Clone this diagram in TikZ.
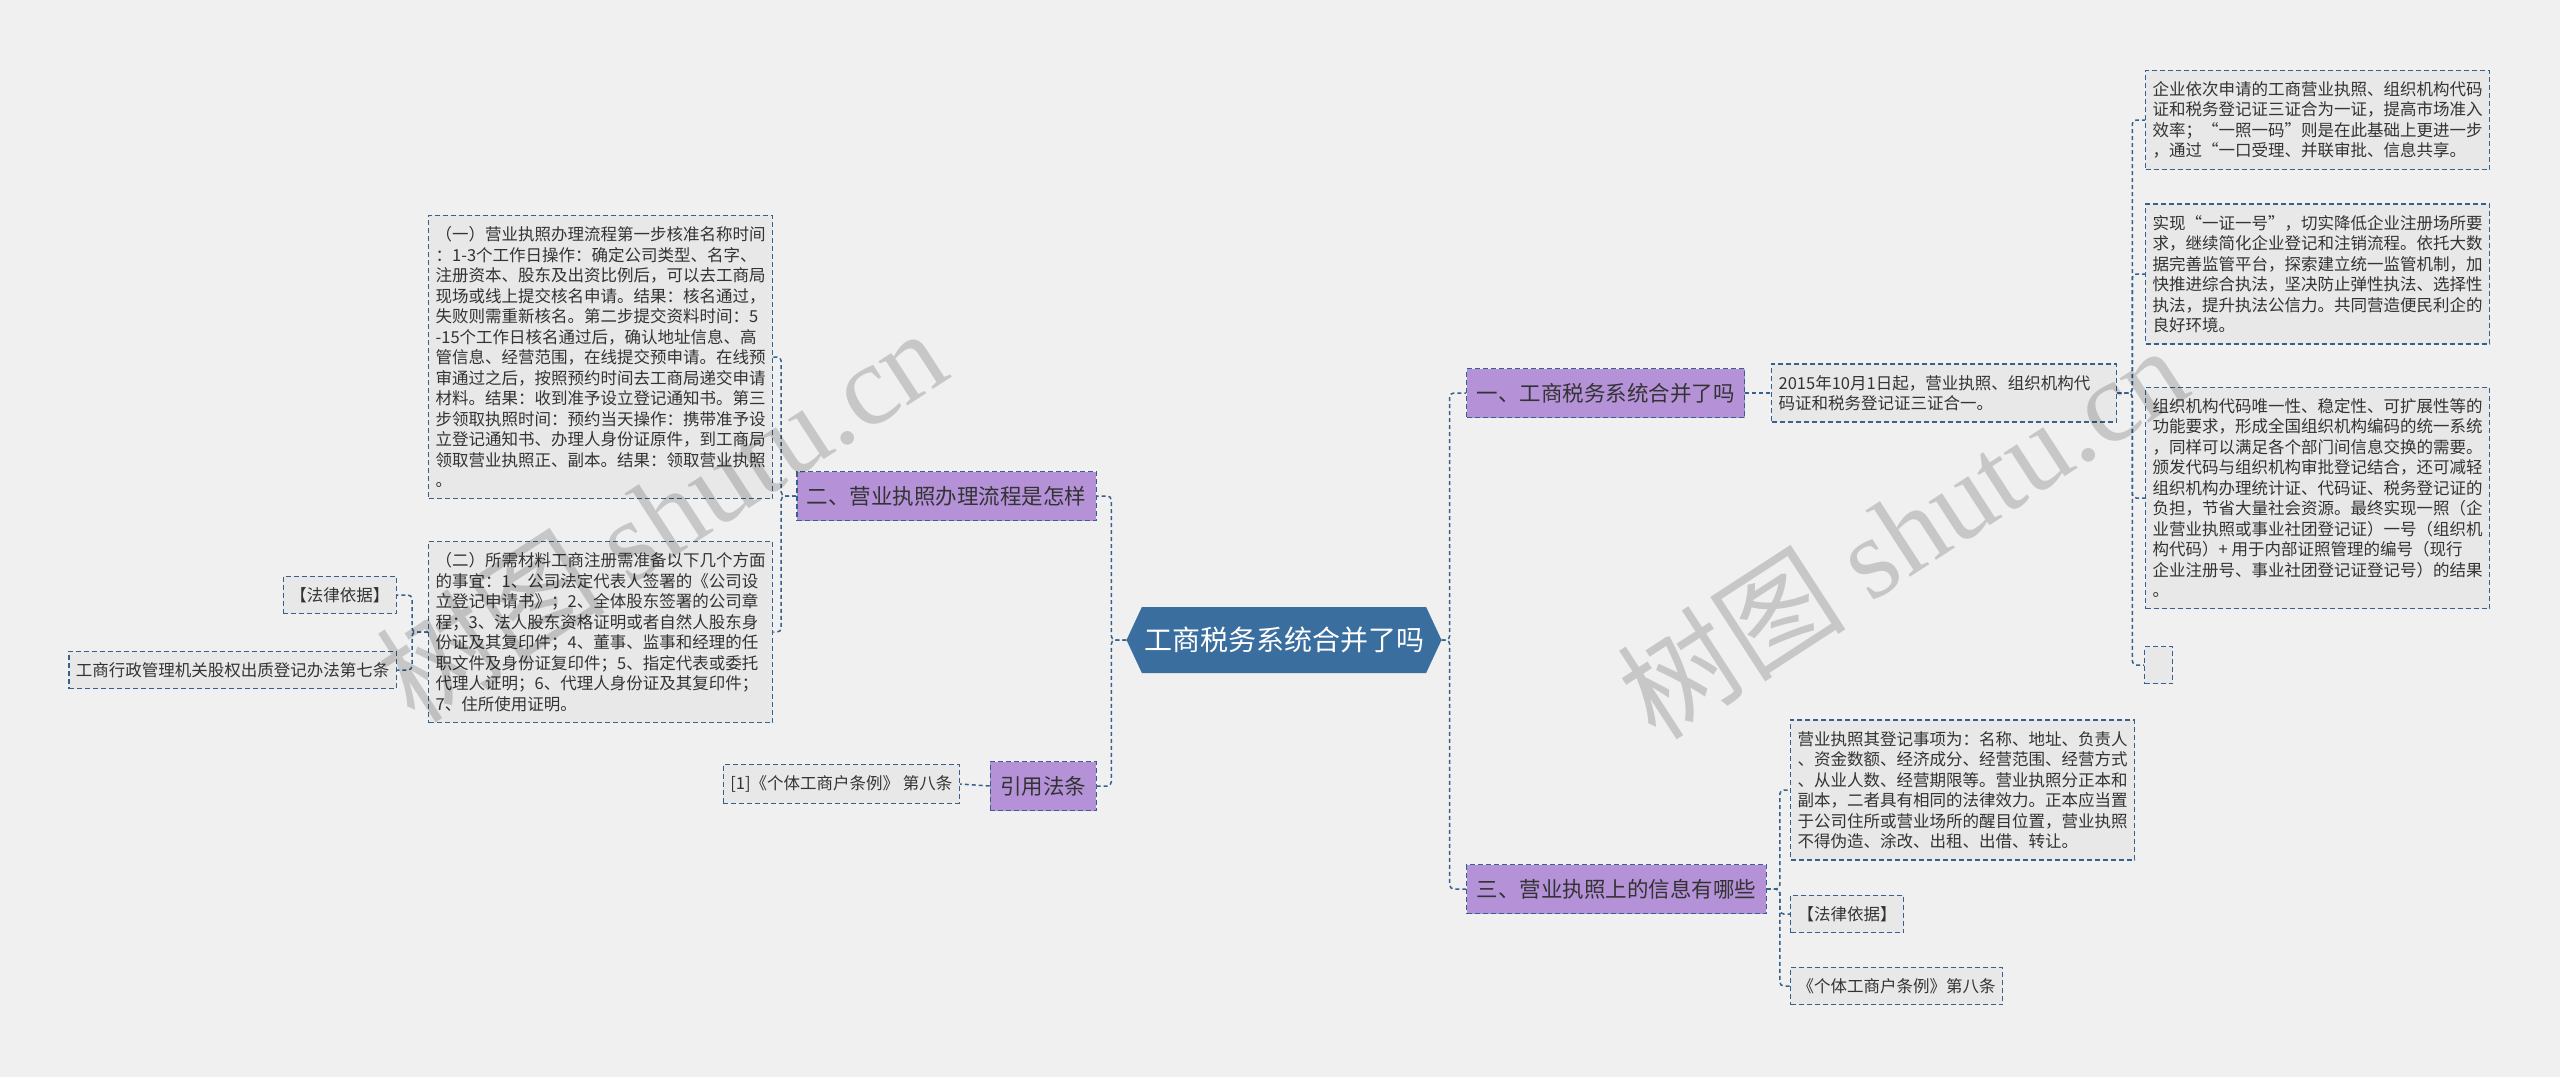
\documentclass[tikz,border=0pt]{standalone}
\usepackage{fontspec}
\setmainfont{Noto Sans CJK SC}
\newfontfamily\wmserif{Liberation Serif}
\usetikzlibrary{shapes.symbols,positioning}
\definecolor{bgcol}{HTML}{F0F0F0}
\definecolor{leafcol}{HTML}{E8E8E8}
\definecolor{topiccol}{HTML}{B592D8}
\definecolor{rootcol}{HTML}{3A6E9E}
\definecolor{linecol}{HTML}{35618C}
\definecolor{txtcol}{HTML}{333333}
\tikzset{
  leaf/.style={rectangle, draw=linecol, fill=leafcol, align=left, text=txtcol, font=\fontsize{16.5}{20.5}\selectfont, inner xsep=7pt, inner ysep=11pt, line width=1.3pt, dash pattern=on 5pt off 3pt},
  topic/.style={rectangle, draw=linecol, fill=topiccol, text=txtcol, font=\fontsize{21.5}{24}\selectfont, inner xsep=10pt, minimum height=49pt, line width=1.3pt, dash pattern=on 5pt off 3pt},
  root/.style={signal, signal to=west and east, signal pointer angle=130, fill=rootcol, text=white, font=\fontsize{28}{30}\selectfont, minimum width=315pt, minimum height=66pt, inner sep=0pt},
  link/.style={draw=linecol, line width=1.5pt, dash pattern=on 4pt off 3pt, rounded corners=4pt},
  watermark/.style={text=black, text opacity=0.17, font=\fontsize{115}{115}\selectfont, rotate=33, inner sep=0pt}
}

\begin{document}
\begin{tikzpicture}[x=1pt, y=-1pt]
\fill[bgcol] (0,0) rectangle (2560,1077);
\useasboundingbox (0,0) rectangle (2560,1077);
\node[root] (root) at (1284,640) {工商税务系统合并了吗};
% left side
\node[topic, anchor=east] (liucheng) at (1097,496) {二、营业执照办理流程是怎样};
\node[topic, anchor=east] (fatiao) at (1097,786) {引用法条};
\node[leaf, anchor=west] (buzhou) at (428,357) {（一）营业执照办理流程第一步核准名称时间\\：1-3个工作日操作：确定公司类型、名字、\\注册资本、股东及出资比例后，可以去工商局\\现场或线上提交核名申请。结果：核名通过，\\失败则需重新核名。第二步提交资料时间：5\\-15个工作日核名通过后，确认地址信息、高\\管信息、经营范围，在线提交预申请。在线预\\审通过之后，按照预约时间去工商局递交申请\\材料。结果：收到准予设立登记通知书。第三\\步领取执照时间：预约当天操作：携带准予设\\立登记通知书、办理人身份证原件，到工商局\\领取营业执照正、副本。结果：领取营业执照\\。};
\node[leaf, anchor=west] (cailiao) at (428,632) {（二）所需材料工商注册需准备以下几个方面\\的事宜：1、公司法定代表人签署的《公司设\\立登记申请书》；2、全体股东签署的公司章\\程；3、法人股东资格证明或者自然人股东身\\份证及其复印件；4、董事、监事和经理的任\\职文件及身份证复印件；5、指定代表或委托\\代理人证明；6、代理人身份证及其复印件；\\7、住所使用证明。};
\node[leaf, anchor=east] (yijuleft) at (397,595) {【法律依据】};
\node[leaf, anchor=east] (banfa) at (397,670) {工商行政管理机关股权出质登记办法第七条};
\node[leaf, anchor=east] (tiaoli) at (960,784) {[1]《个体工商户条例》 第八条};
% right side
\node[topic, anchor=west] (hebing) at (1466,393) {一、工商税务系统合并了吗};
\node[topic, anchor=west] (xinxi) at (1466,889) {三、营业执照上的信息有哪些};
\node[leaf, anchor=west, text width=331pt] (sanzheng) at (1771,393) {2015年10月1日起，营业执照、组织机构代\\码证和税务登记证三证合一。};
\node[leaf, anchor=west] (yizhao) at (2145,120) {企业依次申请的工商营业执照、组织机构代码\\证和税务登记证三证合为一证，提高市场准入\\效率；“一照一码”则是在此基础上更进一步\\，通过“一口受理、并联审批、信息共享。};
\node[leaf, anchor=west] (yizheng) at (2145,274) {实现“一证一号”，切实降低企业注册场所要\\求，继续简化企业登记和注销流程。依托大数\\据完善监管平台，探索建立统一监管机制，加\\快推进综合执法，坚决防止弹性执法、选择性\\执法，提升执法公信力。共同营造便民利企的\\良好环境。};
\node[leaf, anchor=west] (daima) at (2145,498) {组织机构代码唯一性、稳定性、可扩展性等的\\功能要求，形成全国组织机构编码的统一系统\\，同样可以满足各个部门间信息交换的需要。\\颁发代码与组织机构审批登记结合，还可减轻\\组织机构办理统计证、代码证、税务登记证的\\负担，节省大量社会资源。最终实现一照（企\\业营业执照或事业社团登记证）一号（组织机\\构代码）+ 用于内部证照管理的编号（现行\\企业注册号、事业社团登记证登记号）的结果\\。};
\node[leaf, anchor=west, minimum width=28pt, minimum height=37pt] (kong) at (2144,665) {};
\node[leaf, anchor=west] (shixiang) at (1790,790) {营业执照其登记事项为：名称、地址、负责人\\、资金数额、经济成分、经营范围、经营方式\\、从业人数、经营期限等。营业执照分正本和\\副本，二者具有相同的法律效力。正本应当置\\于公司住所或营业场所的醒目位置，营业执照\\不得伪造、涂改、出租、出借、转让。};
\node[leaf, anchor=west] (yijuright) at (1790,914) {【法律依据】};
\node[leaf, anchor=west] (tiaoliright) at (1790,986) {《个体工商户条例》第八条};
% connectors
\foreach \c in {hebing,xinxi} {\draw[link] (root.east) -- ++(8,0) |- (\c.west);}
\foreach \c in {liucheng,fatiao} {\draw[link] (root.west) -- ++(-15,0) |- (\c.east);}
\foreach \c in {buzhou,cailiao} {\draw[link] (liucheng.west) -- ++(-15,0) |- (\c.east);}
\foreach \c in {yijuleft,banfa} {\draw[link] (cailiao.west) -- ++(-16,0) |- (\c.east);}
\draw[link] (fatiao.west) -- (tiaoli.east);
\draw[link] (hebing.east) -- (sanzheng.west);
\foreach \c in {yizhao,yizheng,daima,kong} {\draw[link] (sanzheng.east) -- ++(15,0) |- (\c.west);}
\foreach \c in {shixiang,yijuright,tiaoliright} {\draw[link] (xinxi.east) -- ++(13,0) |- (\c.west);}
% watermarks
\node[watermark] (wmleft) at (661,514) {树图 {\wmserif shutu.cn}};
\node[watermark] (wmright) at (1902,531) {树图 {\wmserif shutu.cn}};
\end{tikzpicture}
\end{document}
